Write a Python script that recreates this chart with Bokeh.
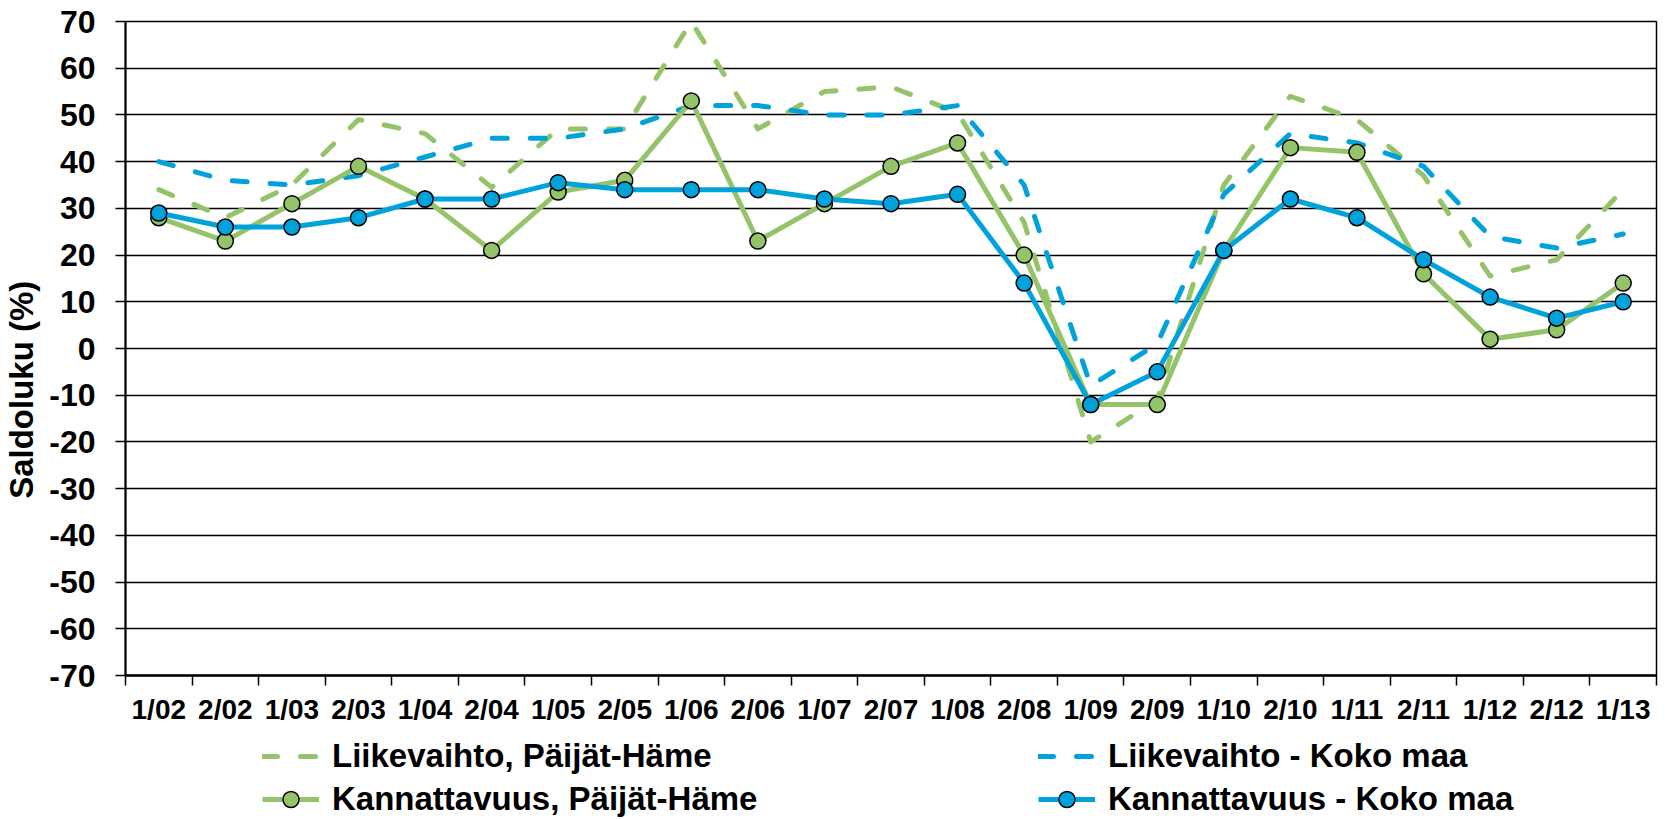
from bokeh.plotting import figure
from bokeh.models import ColumnDataSource, FixedTicker, Legend, LegendItem
from bokeh.layouts import column
from bokeh.embed import file_html
from bokeh.resources import INLINE

# ---- data ----
categories = ["1/02", "2/02", "1/03", "2/03", "1/04", "2/04", "1/05", "2/05", "1/06", "2/06",
              "1/07", "2/07", "1/08", "2/08", "1/09", "2/09", "1/10", "2/10", "1/11", "2/11",
              "1/12", "2/12", "1/13"]
liikevaihto_ph = [34, 28, 35, 49, 46, 34.5, 47, 47, 70, 47, 55, 56, 50.5, 27, -20, -11,
                  35, 54, 49, 37, 15.5, 19, 34]
liikevaihto_km = [40, 36, 35, 37, 41, 45, 45, 47, 52, 52, 50, 50, 52, 35, -8, 1,
                  33, 46, 44, 39, 24, 21.5, 24.5]
kannattavuus_ph = [28, 23, 31, 39, 32, 21, 33.5, 36, 53, 23, 31, 39, 44, 20, -12, -12,
                   21, 43, 42, 16, 2, 4, 14]
kannattavuus_km = [29, 26, 26, 28, 32, 32, 35.5, 34, 34, 34, 32, 31, 33, 14, -12, -5,
                   21, 32, 28, 19, 11, 6.5, 10]
y_ticks = list(range(-70, 71, 10))
y_tick_labels = [str(v) for v in y_ticks]
series_names = ["Liikevaihto, Päijät-Häme", "Liikevaihto - Koko maa",
                "Kannattavuus, Päijät-Häme", "Kannattavuus - Koko maa"]
y_title = "Saldoluku (%)"

GREEN = "#95C36A"
BLUE = "#00A2DB"
FONT = "Liberation Sans"
DASH = "15 23"

xs = list(range(len(categories)))

MAIN_H = 728
LEG_H = 819 - MAIN_H

p = figure(width=1665, height=MAIN_H, output_backend="svg", toolbar_location=None,
           x_range=(-0.5, len(categories) - 0.5), y_range=(-70, 70),
           min_border_left=125, min_border_right=9, min_border_top=21, min_border_bottom=53)
p.background_fill_color = "white"
p.border_fill_color = "white"
p.outline_line_color = "black"
p.outline_line_width = 1.5

# y axis
p.yaxis.ticker = FixedTicker(ticks=y_ticks)
p.yaxis.major_label_overrides = {v: s for v, s in zip(y_ticks, y_tick_labels)}
p.yaxis.major_tick_out = 10
p.yaxis.major_tick_in = 0
p.yaxis.minor_tick_line_color = None
p.yaxis.major_tick_line_width = 1.5
p.yaxis.axis_line_width = 2
p.yaxis.axis_line_color = "black"
p.yaxis.major_label_standoff = 20
p.yaxis.major_label_text_font = FONT
p.yaxis.major_label_text_font_style = "bold"
p.yaxis.major_label_text_font_size = "32px"
p.yaxis.major_label_text_color = "black"
# trailing no-break spaces shift the centred title downwards like in the reference
p.yaxis.axis_label = y_title + "\u00a0" * 9
p.yaxis.axis_label_standoff = 6
p.yaxis.axis_label_text_font = FONT
p.yaxis.axis_label_text_font_style = "bold"
p.yaxis.axis_label_text_font_size = "33px"
p.yaxis.axis_label_text_color = "black"

# x axis
p.xaxis.ticker = FixedTicker(ticks=xs, minor_ticks=[i - 0.5 for i in range(len(categories) + 1)])
p.xaxis.major_label_overrides = {i: c for i, c in enumerate(categories)}
p.xaxis.major_tick_line_color = None
p.xaxis.major_tick_out = 0
p.xaxis.major_tick_in = 0
p.xaxis.minor_tick_line_color = "black"
p.xaxis.minor_tick_line_width = 1.5
p.xaxis.minor_tick_out = 10
p.xaxis.minor_tick_in = 0
p.xaxis.axis_line_width = 2.5
p.xaxis.axis_line_color = "black"
p.xaxis.major_label_standoff = 8
p.xaxis.major_label_text_font = FONT
p.xaxis.major_label_text_font_style = "bold"
p.xaxis.major_label_text_font_size = "28px"
p.xaxis.major_label_text_color = "black"

p.xgrid.visible = False
p.ygrid.ticker = FixedTicker(ticks=y_ticks)
p.ygrid.grid_line_color = "black"
p.ygrid.grid_line_width = 1.5

src = ColumnDataSource(dict(x=xs, lph=liikevaihto_ph, lkm=liikevaihto_km,
                            kph=kannattavuus_ph, kkm=kannattavuus_km))

line_dash_style = dict(line_width=5, line_dash=DASH, line_cap="round", line_join="round")
line_solid_style = dict(line_width=5, line_join="round")
marker_style = dict(marker="circle", size=16, line_color="black", line_width=1.5)

p.line("x", "lph", source=src, line_color=GREEN, **line_dash_style)
p.line("x", "lkm", source=src, line_color=BLUE, **line_dash_style)
p.line("x", "kph", source=src, line_color=GREEN, **line_solid_style)
p.scatter("x", "kph", source=src, fill_color=GREEN, **marker_style)
p.line("x", "kkm", source=src, line_color=BLUE, **line_solid_style)
p.scatter("x", "kkm", source=src, fill_color=BLUE, **marker_style)

# ---- legend strip: a separate figure (the chart frame clips its own annotations).
# Its ranges lie far away from the data, so only the legend entries are visible.
lf = figure(width=1665, height=LEG_H, output_backend="svg", toolbar_location=None,
            x_axis_type=None, y_axis_type=None, x_range=(-200, -199), y_range=(-200, -199),
            min_border=0, min_border_left=0, min_border_right=0,
            min_border_top=0, min_border_bottom=0)
lf.outline_line_color = None
lf.background_fill_color = "white"
lf.border_fill_color = "white"

k1 = lf.line("x", "lph", source=src, line_color=GREEN, **line_dash_style)
k2 = lf.line("x", "lkm", source=src, line_color=BLUE, **line_dash_style)
k3l = lf.line("x", "kph", source=src, line_color=GREEN, **line_solid_style)
k3m = lf.scatter("x", "kph", source=src, fill_color=GREEN, **marker_style)
k4l = lf.line("x", "kkm", source=src, line_color=BLUE, **line_solid_style)
k4m = lf.scatter("x", "kkm", source=src, fill_color=BLUE, **marker_style)


def make_legend(items, x):
    return Legend(items=items, location=(x, 0), orientation="vertical",
                  padding=0, margin=0, spacing=3,
                  glyph_width=57, glyph_height=40, label_height=40, label_standoff=13,
                  border_line_color=None, background_fill_alpha=0,
                  label_text_font=FONT, label_text_font_style="bold",
                  label_text_font_size="33px", label_text_color="black")


lf.add_layout(make_legend([LegendItem(label=series_names[0], renderers=[k1]),
                           LegendItem(label=series_names[2], renderers=[k3l, k3m])], 137))
lf.add_layout(make_legend([LegendItem(label=series_names[1], renderers=[k2]),
                           LegendItem(label=series_names[3], renderers=[k4l, k4m])], 913))

layout = column(p, lf, spacing=0)
open("out.html", "w").write(file_html(layout, INLINE))
